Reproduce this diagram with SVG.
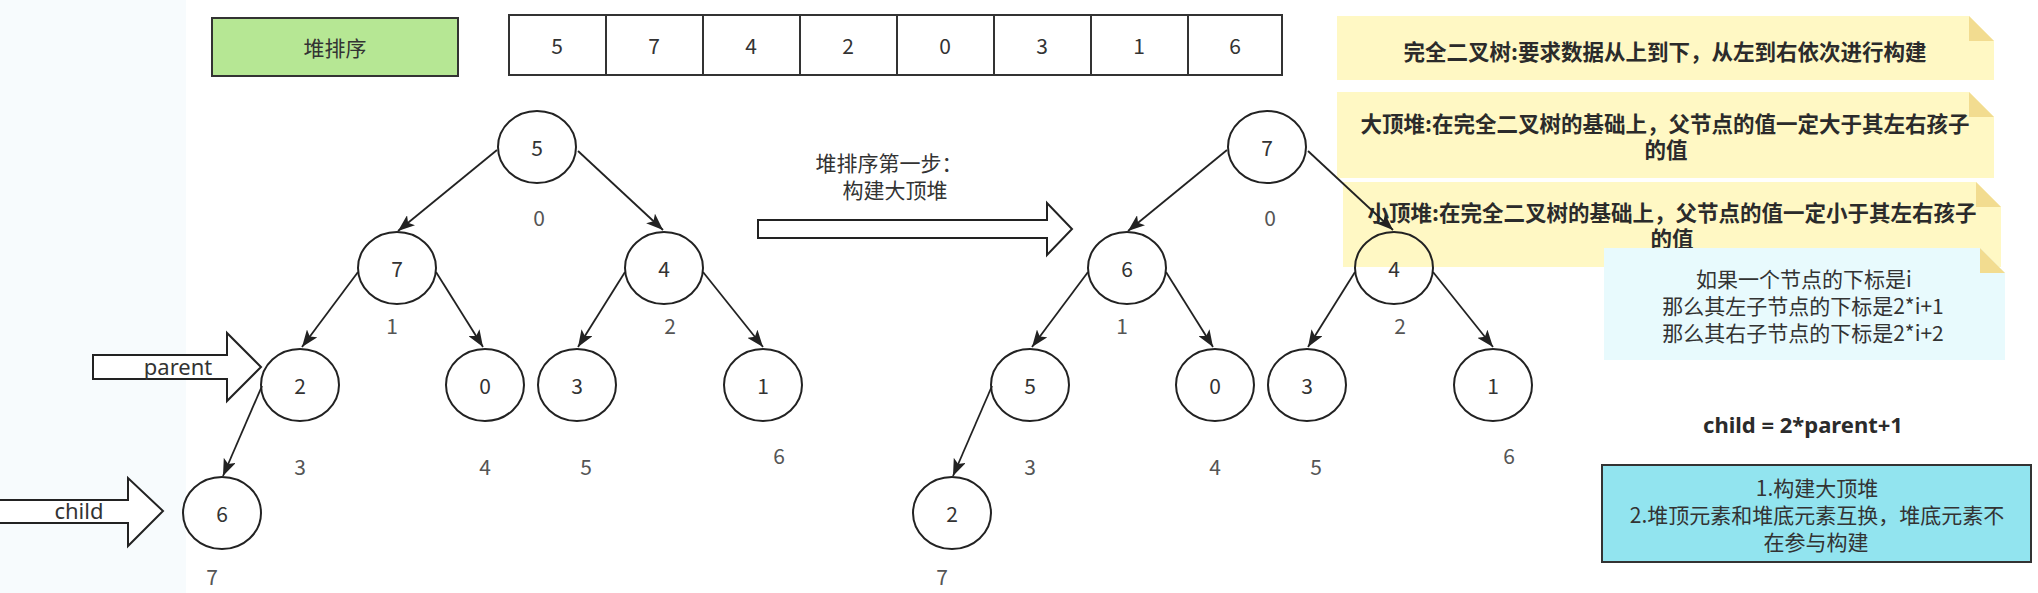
<svg xmlns="http://www.w3.org/2000/svg" width="2038" height="593" viewBox="0 0 2038 593">
<defs>
<style>
.t{font-family:'Noto Sans CJK SC','Noto Sans',sans-serif;font-size:21px;fill:#333;dominant-baseline:central;text-anchor:middle}
.b{font-weight:bold;fill:#2b2b2b}
.nt{font-size:21.5px}
.idx{fill:#555}
.lat{font-family:'Noto Sans','Noto Sans CJK SC',sans-serif;font-size:22px}
.nd{fill:none;stroke:#222;stroke-width:2}
.box{fill:#fff;stroke:#333;stroke-width:2}
.edge{fill:none;stroke:#222;stroke-width:1.8;marker-end:url(#arr)}
.harr{fill:#fff;stroke:#222;stroke-width:2;stroke-linejoin:miter}
.yel{fill:#fff8c4}
.fold{fill:#f2dc90}
</style>
<marker id="arr" markerUnits="userSpaceOnUse" markerWidth="19" markerHeight="13" refX="17" refY="6.5" orient="auto">
<path d="M0,0 L17,6.5 L0,13 L4,6.5 Z" fill="#222"/>
</marker>
</defs>
<rect x="0" y="0" width="2038" height="593" fill="#fff"/>
<rect x="0" y="0" width="186" height="593" fill="#f7fbfd"/>

<g id="title">
<rect x="212" y="18" width="246" height="58" fill="#b6e794" stroke="#333" stroke-width="2"/>
<text class="t" x="335" y="47">堆排序</text>
</g>

<g id="array">
<rect class="box" x="509" y="15" width="97" height="60"/>
<rect class="box" x="606" y="15" width="97" height="60"/>
<rect class="box" x="703" y="15" width="97" height="60"/>
<rect class="box" x="800" y="15" width="97" height="60"/>
<rect class="box" x="897" y="15" width="97" height="60"/>
<rect class="box" x="994" y="15" width="97" height="60"/>
<rect class="box" x="1091" y="15" width="97" height="60"/>
<rect class="box" x="1188" y="15" width="94" height="60"/>
<text class="t" x="557" y="45">5</text>
<text class="t" x="654" y="45">7</text>
<text class="t" x="751" y="45">4</text>
<text class="t" x="848" y="45">2</text>
<text class="t" x="945" y="45">0</text>
<text class="t" x="1042" y="45">3</text>
<text class="t" x="1139" y="45">1</text>
<text class="t" x="1235" y="45">6</text>
</g>

<g id="note1">
<path class="yel" d="M1337,16 H1969 L1994,41 V80 H1337 Z"/>
<path class="fold" d="M1969,16 V41 H1994 Z"/>
<text class="t b nt" x="1665" y="50">完全二叉树:要求数据从上到下，从左到右依次进行构建</text>
</g>
<g id="note2">
<path class="yel" d="M1337,92 H1969 L1994,117 V178 H1337 Z"/>
<path class="fold" d="M1969,92 V117 H1994 Z"/>
<text class="t b nt" x="1665" y="122">大顶堆:在完全二叉树的基础上，父节点的值一定大于其左右孩子</text>
<text class="t b nt" x="1666" y="148">的值</text>
</g>
<g id="note3">
<path class="yel" d="M1343,182 H1976 L2001,207 V267 H1343 Z"/>
<path class="fold" d="M1976,182 V207 H2001 Z"/>
<text class="t b nt" x="1672" y="211">小顶堆:在完全二叉树的基础上，父节点的值一定小于其左右孩子</text>
<text class="t b nt" x="1672" y="237">的值</text>
</g>
<g id="note4">
<path d="M1604,248 H1980 L2005,273 V360 H1604 Z" fill="#e8fafd"/>
<path class="fold" d="M1980,248 V273 H2005 Z"/>
<text class="t" x="1804" y="278">如果一个节点的下标是i</text>
<text class="t" x="1803" y="305">那么其左子节点的下标是2*i+1</text>
<text class="t" x="1803" y="332">那么其右子节点的下标是2*i+2</text>
</g>

<g id="formula">
<text class="t lat b" x="1803" y="424">child = 2*parent+1</text>
</g>

<g id="steps">
<rect x="1602" y="465" width="429" height="97" fill="#92e4ef" stroke="#333" stroke-width="2"/>
<text class="t" x="1817" y="487">1.构建大顶堆</text>
<text class="t" x="1817" y="514">2.堆顶元素和堆底元素互换，堆底元素不</text>
<text class="t" x="1816" y="541">在参与构建</text>
</g>

<g id="step-label">
<text class="t" x="889" y="162">堆排序第一步：</text>
<text class="t" x="895" y="189">构建大顶堆</text>
</g>
<g id="big-arrow">
<polygon class="harr" points="758,220 1047,220 1047,203 1072,229 1047,255 1047,238 758,238"/>
</g>

<g id="parent-arrow">
<polygon class="harr" points="93,355 227,355 227,333 261,367 227,401 227,379 93,379"/>
<text class="t lat" x="178" y="366">parent</text>
</g>
<g id="child-arrow">
<polygon class="harr" points="-3,500 128,500 128,478 163,511 128,546 128,523 -3,523"/>
<text class="t lat" x="79" y="510">child</text>
</g>

<g id="connectors">
<line class="edge" x1="497" y1="150" x2="398" y2="231"/>
<line class="edge" x1="578" y1="151" x2="663" y2="230"/>
<line class="edge" x1="358" y1="272" x2="302" y2="347"/>
<line class="edge" x1="436" y1="272" x2="483" y2="347"/>
<line class="edge" x1="625" y1="272" x2="578" y2="347"/>
<line class="edge" x1="703" y1="272" x2="763" y2="347"/>
<line class="edge" x1="262" y1="386" x2="223" y2="476"/>
<line class="edge" x1="1227" y1="150" x2="1128" y2="231"/>
<line class="edge" x1="1308" y1="151" x2="1393" y2="230"/>
<line class="edge" x1="1088" y1="272" x2="1032" y2="347"/>
<line class="edge" x1="1166" y1="272" x2="1213" y2="347"/>
<line class="edge" x1="1355" y1="272" x2="1308" y2="347"/>
<line class="edge" x1="1433" y1="272" x2="1493" y2="347"/>
<line class="edge" x1="992" y1="386" x2="953" y2="476"/>
</g>

<g id="t1-n0"><ellipse class="nd" cx="537" cy="147" rx="39" ry="36"/><text class="t" x="537" y="147">5</text><text class="t idx" x="539" y="217">0</text></g>
<g id="t1-n1"><ellipse class="nd" cx="397" cy="268" rx="39" ry="36"/><text class="t" x="397" y="268">7</text><text class="t idx" x="392" y="325">1</text></g>
<g id="t1-n2"><ellipse class="nd" cx="664" cy="268" rx="39" ry="36"/><text class="t" x="664" y="268">4</text><text class="t idx" x="670" y="325">2</text></g>
<g id="t1-n3"><ellipse class="nd" cx="300" cy="385" rx="39" ry="36"/><text class="t" x="300" y="385">2</text><text class="t idx" x="300" y="466">3</text></g>
<g id="t1-n4"><ellipse class="nd" cx="485" cy="385" rx="39" ry="36"/><text class="t" x="485" y="385">0</text><text class="t idx" x="485" y="466">4</text></g>
<g id="t1-n5"><ellipse class="nd" cx="577" cy="385" rx="39" ry="36"/><text class="t" x="577" y="385">3</text><text class="t idx" x="586" y="466">5</text></g>
<g id="t1-n6"><ellipse class="nd" cx="763" cy="385" rx="39" ry="36"/><text class="t" x="763" y="385">1</text><text class="t idx" x="779" y="455">6</text></g>
<g id="t1-n7"><ellipse class="nd" cx="222" cy="513" rx="39" ry="36"/><text class="t" x="222" y="513">6</text><text class="t idx" x="212" y="576">7</text></g>

<g id="t2-n0"><ellipse class="nd" cx="1267" cy="147" rx="39" ry="36"/><text class="t" x="1267" y="147">7</text><text class="t idx" x="1270" y="217">0</text></g>
<g id="t2-n1"><ellipse class="nd" cx="1127" cy="268" rx="39" ry="36"/><text class="t" x="1127" y="268">6</text><text class="t idx" x="1122" y="325">1</text></g>
<g id="t2-n2"><ellipse class="nd" cx="1394" cy="268" rx="39" ry="36"/><text class="t" x="1394" y="268">4</text><text class="t idx" x="1400" y="325">2</text></g>
<g id="t2-n3"><ellipse class="nd" cx="1030" cy="385" rx="39" ry="36"/><text class="t" x="1030" y="385">5</text><text class="t idx" x="1030" y="466">3</text></g>
<g id="t2-n4"><ellipse class="nd" cx="1215" cy="385" rx="39" ry="36"/><text class="t" x="1215" y="385">0</text><text class="t idx" x="1215" y="466">4</text></g>
<g id="t2-n5"><ellipse class="nd" cx="1307" cy="385" rx="39" ry="36"/><text class="t" x="1307" y="385">3</text><text class="t idx" x="1316" y="466">5</text></g>
<g id="t2-n6"><ellipse class="nd" cx="1493" cy="385" rx="39" ry="36"/><text class="t" x="1493" y="385">1</text><text class="t idx" x="1509" y="455">6</text></g>
<g id="t2-n7"><ellipse class="nd" cx="952" cy="513" rx="39" ry="36"/><text class="t" x="952" y="513">2</text><text class="t idx" x="942" y="576">7</text></g>
</svg>
